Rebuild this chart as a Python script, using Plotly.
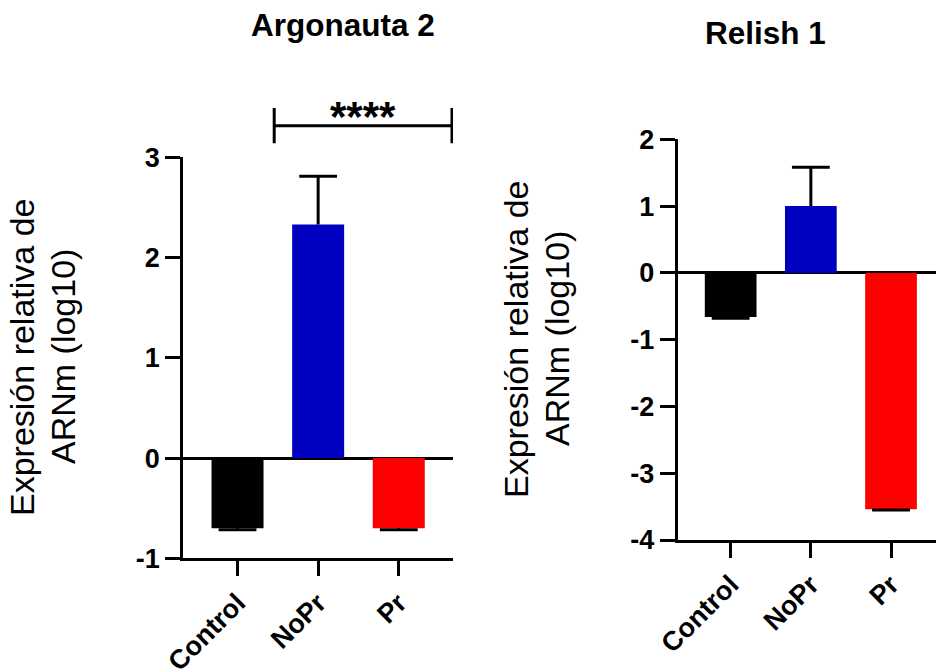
import plotly.graph_objects as go

categories = ["Control", "NoPr", "Pr"]
colors = ["#000000", "#0000C0", "#FF0000"]

argo_values = [-0.70, 2.33, -0.70]
argo_err_up = [0.0, 0.48, 0.0]
argo_err_down = [0.015, 0.0, 0.015]

relish_values = [-0.66, 1.00, -3.54]
relish_err_up = [0.0, 0.58, 0.0]
relish_err_down = [0.02, 0.0, 0.01]

argo_yticks = [-1, 0, 1, 2, 3]
relish_yticks = [-4, -3, -2, -1, 0, 1, 2]

# significance bracket (data units, left panel)
bracket_x = [0.455, 2.66]
bracket_y = 3.316
bracket_half = 0.175
stars_x = 1.557
stars_y = 3.41
stars_text = "****"

ylabel_lines = ["Expresión relativa de", "ARNm (log10)"]
titles = ["Argonauta 2", "Relish 1"]
FONT = "Arial, Liberation Sans, sans-serif"

fig = go.Figure()


def add_panel(values, err_up, err_down, xa, ya):
    fig.add_trace(go.Bar(
        x=categories, y=values, marker=dict(color=colors, line=dict(width=0)),
        width=0.645,
        error_y=dict(type="data", symmetric=False, array=err_up, arrayminus=err_down,
                     color="black", thickness=3, width=0),
        xaxis=xa, yaxis=ya, showlegend=False))
    # caps only at the outer end of each error bar
    cap_y = [v + u if v >= 0 else v - d for v, u, d in zip(values, err_up, err_down)]
    fig.add_trace(go.Scatter(
        x=categories, y=cap_y, mode="markers",
        marker=dict(symbol="line-ew", size=27, line=dict(color="black", width=3)),
        xaxis=xa, yaxis=ya, showlegend=False, hoverinfo="skip"))


add_panel(argo_values, argo_err_up, argo_err_down, "x", "y")
add_panel(relish_values, relish_err_up, relish_err_down, "x2", "y2")

axis_common = dict(showline=True, linecolor="black", linewidth=3, ticks="outside",
                   ticklen=15, tickwidth=3, tickcolor="black", showgrid=False,
                   automargin=False,
                   tickfont=dict(family=FONT, size=27, color="black", weight="bold"))

argo_range = [-1, 3]
relish_range = [-4, 2]

fig.update_layout(
    width=936, height=672,
    margin=dict(l=0, r=0, t=0, b=0, pad=0, autoexpand=False),
    paper_bgcolor="white", plot_bgcolor="white",
    xaxis=dict(domain=[0.1958, 0.4840], range=[-0.673, 2.673], tickangle=-45,
               zeroline=False, anchor="y", **axis_common),
    yaxis=dict(domain=[0.1692, 0.7659], range=argo_range, tickvals=argo_yticks,
               ticktext=[str(v) for v in argo_yticks],
               zeroline=True, zerolinecolor="black", zerolinewidth=3,
               anchor="x", **axis_common),
    xaxis2=dict(domain=[0.7240, 1.0], range=[-0.661, 2.561], tickangle=-45,
                zeroline=False, anchor="y2", **axis_common),
    yaxis2=dict(domain=[0.1964, 0.7927], range=relish_range, tickvals=relish_yticks,
                ticktext=[str(v) for v in relish_yticks],
                zeroline=True, zerolinecolor="black", zerolinewidth=3,
                anchor="x2", **axis_common),
)


def ydom(v, rng):
    return (v - rng[0]) / (rng[1] - rng[0])


# bracket
line = dict(color="black", width=3)
fig.add_shape(type="line", xref="x", yref="y domain",
              x0=bracket_x[0], x1=bracket_x[1],
              y0=ydom(bracket_y, argo_range), y1=ydom(bracket_y, argo_range), line=line)
for bx in bracket_x:
    fig.add_shape(type="line", xref="x", yref="y domain", x0=bx, x1=bx,
                  y0=ydom(bracket_y - bracket_half, argo_range),
                  y1=ydom(bracket_y + bracket_half, argo_range), line=line)

fig.add_annotation(x=stars_x, y=ydom(stars_y, argo_range), xref="x", yref="y domain",
                   text=stars_text, showarrow=False,
                   font=dict(family=FONT, size=42, color="black", weight="bold"),
                   xanchor="center", yanchor="middle")

# titles
title_font = dict(family=FONT, size=31.5, color="black", weight="bold")
fig.add_annotation(x=342.5 / 936, y=1 - 25 / 672, xref="paper", yref="paper",
                   text=titles[0], showarrow=False, font=title_font,
                   xanchor="center", yanchor="middle")
fig.add_annotation(x=765 / 936, y=1 - 33 / 672, xref="paper", yref="paper",
                   text=titles[1], showarrow=False, font=title_font,
                   xanchor="center", yanchor="middle")

# y labels (one annotation per line for exact line spacing)
label_font = dict(family=FONT, size=34, color="black")
for (lx1, lx2, ly) in [(22, 63, 357), (516, 557, 339)]:
    for lx, txt in [(lx1, ylabel_lines[0]), (lx2, ylabel_lines[1])]:
        fig.add_annotation(x=lx / 936, y=1 - ly / 672, xref="paper", yref="paper",
                           text=txt, showarrow=False, font=label_font, textangle=-90,
                           xanchor="center", yanchor="middle")

fig.write_html("out.html", post_script="document.body.style.margin='0';")
